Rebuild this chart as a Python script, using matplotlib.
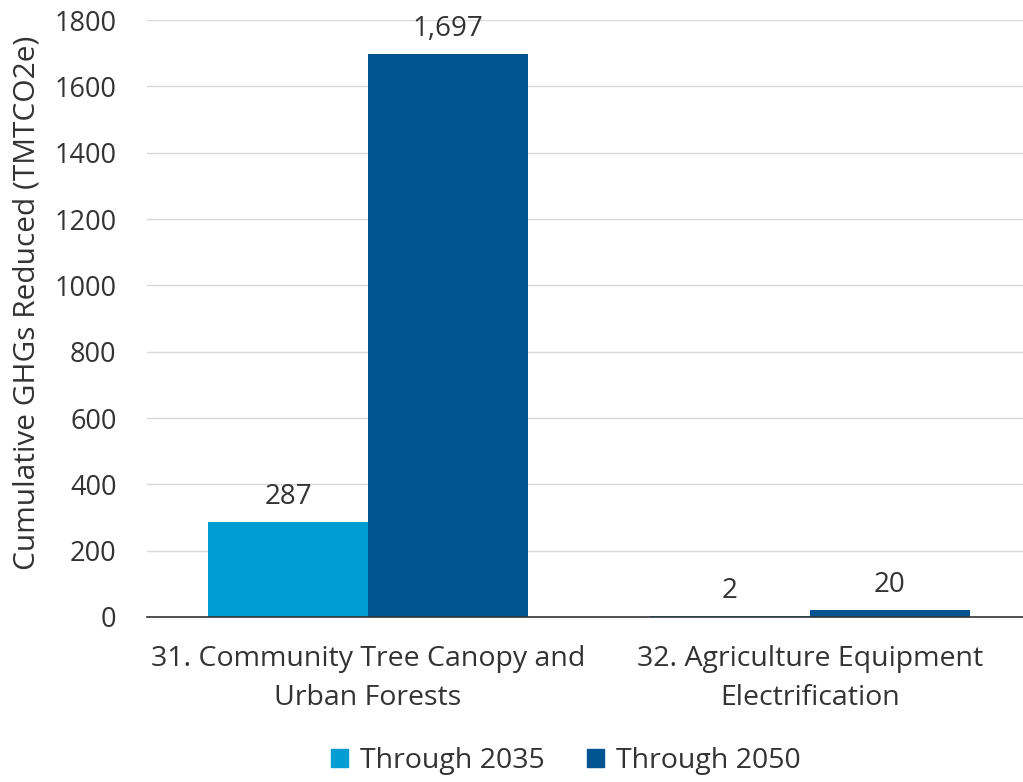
import matplotlib
matplotlib.use("Agg")
import matplotlib.pyplot as plt
from matplotlib.patches import Patch
import numpy as np

plt.rcParams['font.family'] = ['Open Sans', 'DejaVu Sans']

categories = ["31. Community Tree Canopy and\nUrban Forests",
              "32. Agriculture Equipment\nElectrification"]
series_names = ["Through 2035", "Through 2050"]
through_2035 = [287, 2]
through_2050 = [1697, 20]
labels_2035 = ["287", "2"]
labels_2050 = ["1,697", "20"]
colors = ["#009DD2", "#00548F"]
text_color = "#333333"

fig = plt.figure(figsize=(10.23, 7.82), dpi=100)
ax = fig.add_axes([0.1437, 0.211, 0.864, 0.7634])

x = np.arange(len(categories))
w = 0.362
b1 = ax.bar(x - w / 2, through_2035, w, color=colors[0], zorder=3)
b2 = ax.bar(x + w / 2, through_2050, w, color=colors[1], zorder=3)

for bars, labs in ((b1, labels_2035), (b2, labels_2050)):
    for rect, lab in zip(bars, labs):
        ax.annotate(lab, (rect.get_x() + rect.get_width() / 2, rect.get_height()),
                    xytext=(0, 8), textcoords="offset points",
                    ha="center", va="bottom", fontsize=20, color=text_color)

ax.set_xlim(-0.5, 1.5)
ax.set_ylim(0, 1800)
ax.set_yticks(np.arange(0, 1801, 200))
ax.set_xticks(x)
ax.set_xticklabels(categories, fontsize=20.5, color=text_color, linespacing=1.5)
ax.tick_params(axis="y", labelsize=19.5, labelcolor=text_color, length=0, pad=22)
ax.tick_params(axis="x", length=0, pad=20.5)
ax.grid(axis="y", color="#d9d9d9", linewidth=1, zorder=0)
for s in ("top", "right", "left"):
    ax.spines[s].set_visible(False)
ax.spines["bottom"].set_color("#333333")
ax.spines["bottom"].set_linewidth(1.2)
ax.spines["bottom"].set_zorder(4)

ax.set_ylabel("Cumulative GHGs Reduced (TMTCO2e)", fontsize=21.5, color=text_color)
ax.yaxis.set_label_coords(-0.119, 0.527)

handles = [Patch(color=c, label=n) for c, n in zip(colors, series_names)]
fig.legend(handles=handles, loc="center", bbox_to_anchor=(0.553, 0.027), ncol=2,
           frameon=False, fontsize=20.5, handlelength=0.6, handleheight=0.6,
           handletextpad=0.4, columnspacing=1.5, labelcolor=text_color)

fig.savefig("out.png", dpi=100)
